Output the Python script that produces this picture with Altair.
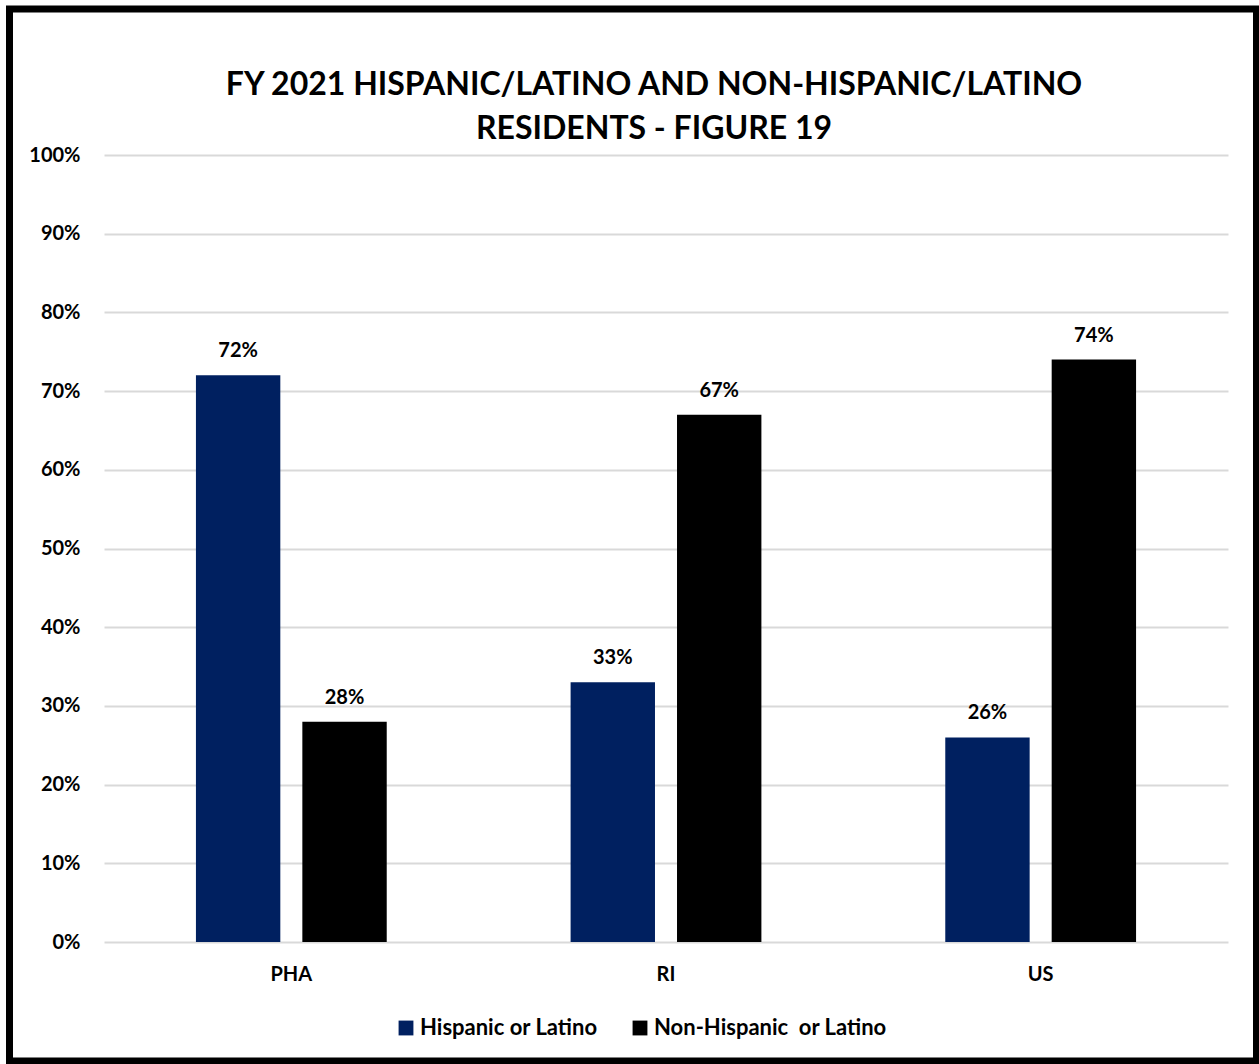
import altair as alt
import pandas as pd

categories = ["PHA", "RI", "US"]
series = ["Hispanic or Latino", "Non-Hispanic  or Latino"]
hispanic = [0.72, 0.33, 0.26]
non_hispanic = [0.28, 0.67, 0.74]
colors = ["#002060", "#000000"]

rows = []
for i, c in enumerate(categories):
    rows.append({"Category": c, "Series": series[0], "Value": hispanic[i]})
    rows.append({"Category": c, "Series": series[1], "Value": non_hispanic[i]})
df = pd.DataFrame(rows)

FONT = "Lato"

x = alt.X("Category:N", sort=categories,
          scale=alt.Scale(paddingInner=0, paddingOuter=0),
          axis=alt.Axis(title=None, labelAngle=0, ticks=False, domain=False,
                        labelFontSize=20, labelFontWeight="bold", labelColor="#000000",
                        labelPadding=22, labelFont=FONT))
xo = alt.XOffset("Series:N", sort=series,
                 scale=alt.Scale(paddingInner=0.207, paddingOuter=0.864))
y = alt.Y("Value:Q", scale=alt.Scale(domain=[0, 1]),
          axis=alt.Axis(title=None, format="%", values=[i / 10 for i in range(11)],
                        ticks=False, domain=False, gridColor="#d9d9d9", gridWidth=2,
                        labelFontSize=20, labelFontWeight="bold", labelColor="#000000",
                        labelPadding=24, labelFont=FONT))

bars = alt.Chart(df).mark_bar().encode(
    x=x, xOffset=xo, y=y,
    color=alt.Color("Series:N", sort=series,
                    scale=alt.Scale(domain=series, range=colors),
                    legend=alt.Legend(title=None, orient="none", direction="horizontal",
                                      legendX=291, legendY=862,
                                      symbolType="square", symbolSize=220,
                                      symbolStrokeWidth=0, symbolOpacity=1,
                                      labelFontSize=22, labelFontWeight="bold",
                                      labelColor="#000000", labelFont=FONT,
                                      columnPadding=31, labelOffset=3,
                                      labelLimit=400,
                                      labelExpr="replace(datum.label, '  ', '\u00a0 ')"))
)

labels = alt.Chart(df).mark_text(
    dy=-18, baseline="alphabetic", fontSize=20, fontWeight="bold", font=FONT, color="#000000"
).encode(
    x=alt.X("Category:N", sort=categories), xOffset=alt.XOffset("Series:N", sort=series),
    y="Value:Q", text=alt.Text("Value:Q", format=".0%")
)

border = alt.Chart(pd.DataFrame({"a": [0]})).mark_rect(
    filled=False, stroke="#000000", strokeWidth=7
).encode(
    x=alt.value(-94.5), x2=alt.value(1152.5), y=alt.value(-146), y2=alt.value(906)
)

chart = alt.layer(bars, labels, border).properties(
    width=1124, height=787,
    background="#ffffff",
    title=alt.TitleParams(
        text=["FY 2021 HISPANIC/LATINO AND NON-HISPANIC/LATINO", "RESIDENTS - FIGURE 19"],
        fontSize=32, fontWeight="bold", font=FONT, color="#000000",
        anchor="middle", dx=-12, lineHeight=44, offset=20, dy=160
    ),
    autosize=alt.AutoSizeParams(type="none"),
    padding={"left": 104, "top": 155, "right": 31, "bottom": 122},
).configure_view(stroke=None)

chart.save("out.html", embed_options={"renderer": "svg", "actions": False})
